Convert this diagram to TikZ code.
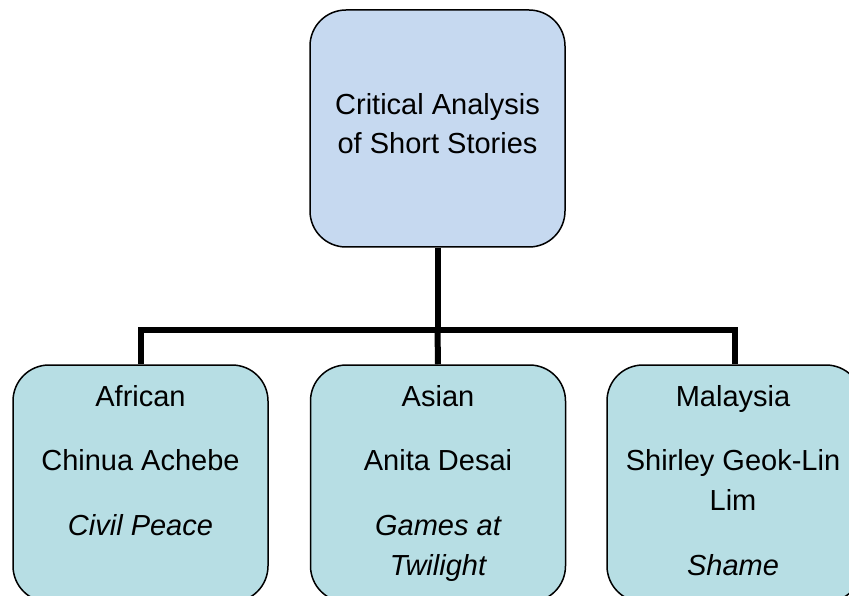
\documentclass[tikz,border=0pt]{standalone}
\usepackage{fontspec}
\setmainfont{Liberation Sans}
\usetikzlibrary{backgrounds}
\begin{document}
\begin{tikzpicture}[x=1pt,y=-1pt,
  every node/.style={font=\fontsize{29}{38}\selectfont},
  boxbase/.style={draw=black,line width=1.5pt,rounded corners=36pt,
    minimum width=255pt,minimum height=237pt,inner sep=0pt},
  topbox/.style={boxbase,fill=topblue},
  subbox/.style={boxbase,fill=subteal},
  label/.style={inner sep=0pt,anchor=base},
  link/.style={line width=6pt}]
\definecolor{topblue}{RGB}{198,217,240}
\definecolor{subteal}{RGB}{183,222,228}
\useasboundingbox (0,0) rectangle (849,596);
\clip (0,0) rectangle (849,596);

% boxes
\node[topbox] (root) at (437.5,128.5) {};
\node[subbox] (afr) at (140.5,483.5) {};
\node[subbox] (asi) at (438,483.5) {};
\node[subbox] (mal) at (734.5,483.5) {};

% tree connectors, behind the boxes
\coordinate (hub) at (437.5,330);
\begin{scope}[on background layer]
\draw[link] (root.south) -- (hub);
\draw[link] (hub) -| (afr.north);
\draw[link] (hub) -- (asi.north);
\draw[link] (hub) -| (mal.north);
\end{scope}

% texts (placed by baseline)
\node[label] (rootA) at (437.5,115) {Critical Analysis};
\node[label] (rootB) at (437.5,154) {of Short Stories};

\node[label] (afr1) at (140.5,406) {African};
\node[label] (afr2) at (140.5,470) {Chinua Achebe};
\node[label] (afr3) at (140.5,535) {\itshape Civil Peace};

\node[label] (asi1) at (438,406) {Asian};
\node[label] (asi2) at (438,470) {Anita Desai};
\node[label] (asi3) at (438,535) {\itshape Games at};
\node[label] (asi4) at (438,575) {\itshape Twilight};

\node[label] (mal1) at (733,406) {Malaysia};
\node[label] (mal2) at (733,470) {Shirley Geok-Lin};
\node[label] (mal3) at (733,510) {Lim};
\node[label] (mal4) at (733,575) {\itshape Shame};
\end{tikzpicture}
\end{document}
